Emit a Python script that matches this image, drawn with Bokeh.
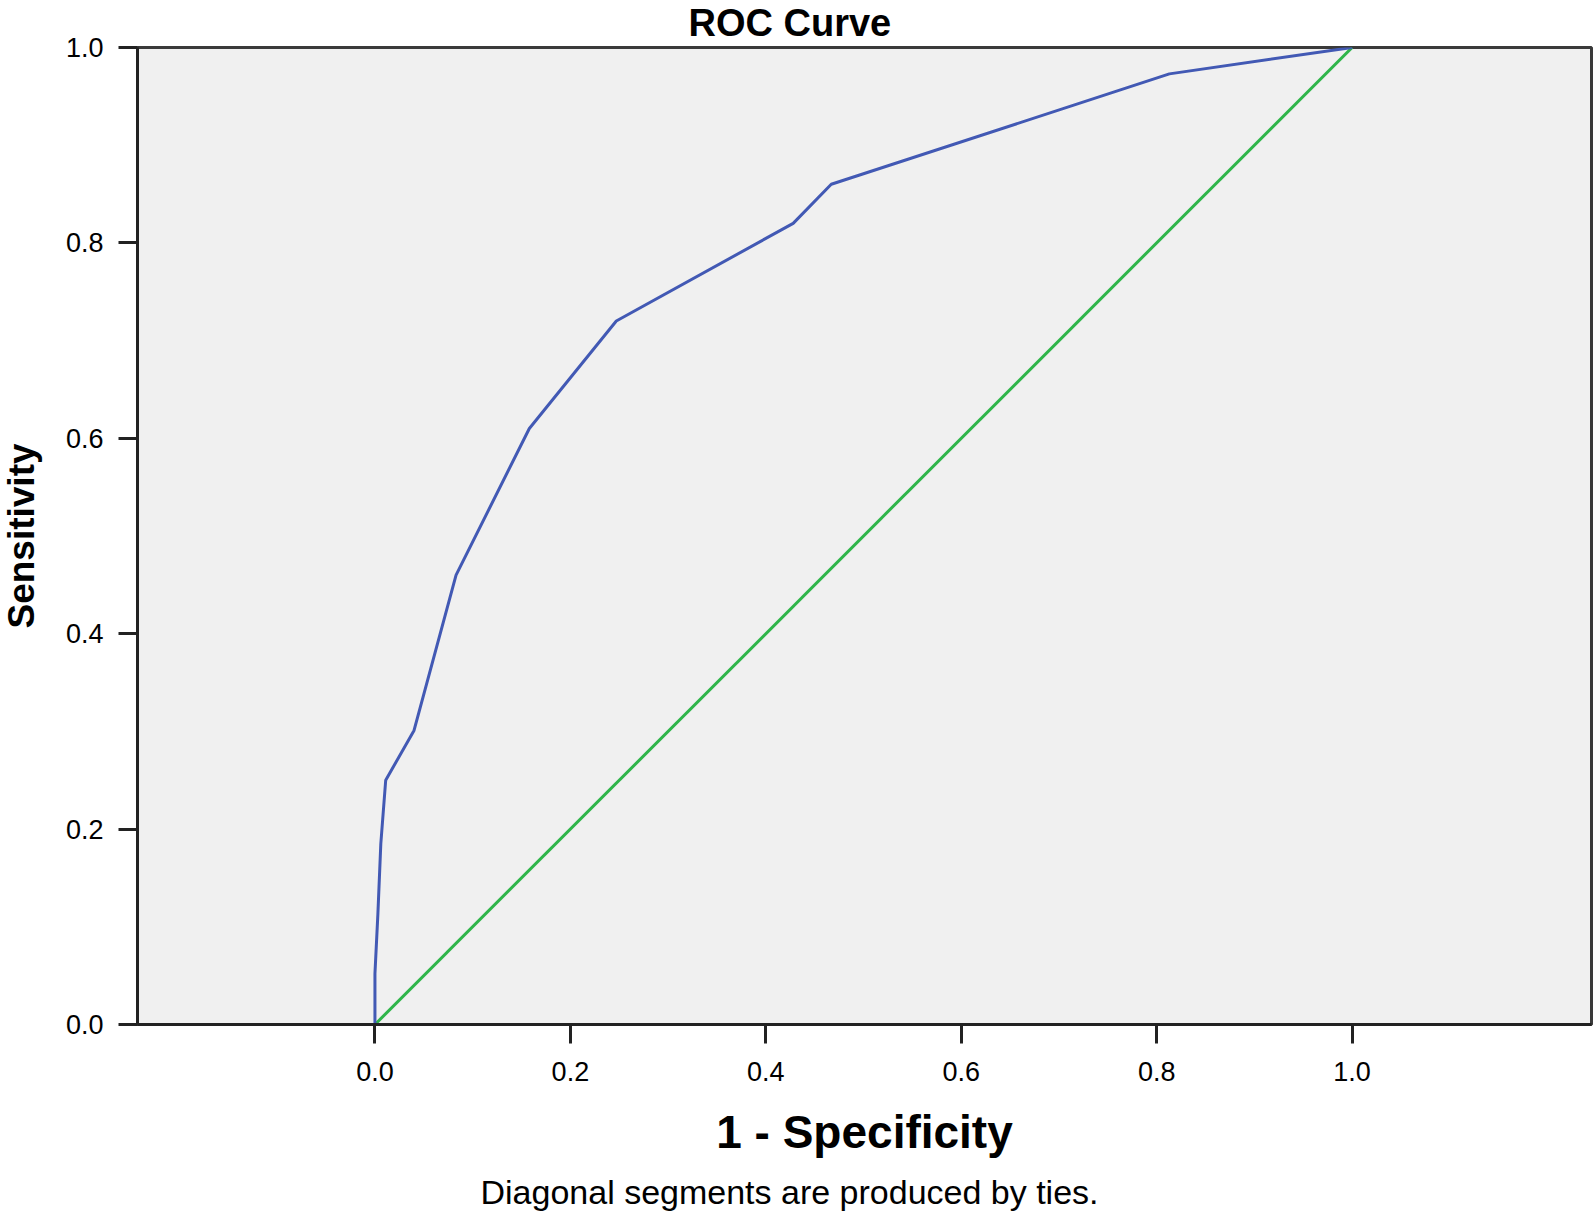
from bokeh.plotting import figure
from bokeh.models import Range1d, FixedTicker, Title, NumeralTickFormatter
from bokeh.embed import file_html
from bokeh.resources import INLINE

# ROC curve data (1 - specificity, sensitivity)
fpr = [0.0, 0.0, 0.003, 0.006, 0.011, 0.040, 0.083, 0.158, 0.247, 0.428, 0.467, 0.813, 1.0]
tpr = [0.0, 0.052, 0.113, 0.185, 0.250, 0.301, 0.460, 0.610, 0.720, 0.820, 0.860, 0.973, 1.0]
ref_x = [0.0, 1.0]
ref_y = [0.0, 1.0]
tick_values = [0.0, 0.2, 0.4, 0.6, 0.8, 1.0]

title_text = "ROC Curve"
x_title = "1 - Specificity"
y_title = "Sensitivity"
footnote = "Diagonal segments are produced by ties."

FONT = "Liberation Sans"

# the figure is pulled up/left a little so that the title and y title can sit near the page edge
p = figure(width=1599, height=1242, output_backend="svg", toolbar_location=None,
           x_range=Range1d(-0.243, 1.245), y_range=Range1d(0, 1),
           min_border_left=143, min_border_right=2, min_border_top=69, min_border_bottom=196,
           styles={"margin-top": "-22px", "margin-left": "-6px"})

p.background_fill_color = "#f0f0f0"
p.border_fill_color = "white"
p.outline_line_color = "#3a3a3a"
p.outline_line_width = 3
p.xgrid.visible = False
p.ygrid.visible = False

p.title.text = title_text
p.title.text_font = FONT
p.title.text_font_size = "38px"
p.title.text_font_style = "bold"
p.title.align = "left"
p.title.vertical_align = "bottom"
p.title.offset = 551
p.title.standoff = 7
p.title.text_color = "black"

for ax in (p.xaxis[0], p.yaxis[0]):
    ax.ticker = FixedTicker(ticks=tick_values)
    ax.formatter = NumeralTickFormatter(format="0.0")
    ax.minor_tick_line_color = None
    ax.major_tick_in = 0
    ax.major_tick_out = 19
    ax.major_tick_line_width = 3
    ax.major_tick_line_color = "#222222"
    ax.axis_line_width = 3
    ax.axis_line_color = "#222222"
    ax.major_label_text_font = FONT
    ax.major_label_text_font_size = "27px"
    ax.major_label_text_color = "black"
    ax.axis_label_text_font = FONT
    ax.axis_label_text_font_style = "bold"
    ax.axis_label_text_color = "black"

p.xaxis.axis_label = x_title
p.xaxis.axis_label_text_font_size = "46px"
p.xaxis.major_label_standoff = 18
p.xaxis.axis_label_standoff = 22

p.yaxis.axis_label = y_title
p.yaxis.axis_label_text_font_size = "37px"
p.yaxis.major_label_standoff = 15
p.yaxis.axis_label_standoff = 21

p.line(ref_x, ref_y, line_color="#2fb54a", line_width=3)
p.line(fpr, tpr, line_color="#4259b4", line_width=3)

foot = Title(text=footnote, align="left", offset=343,
             text_font=FONT, text_font_size="34px", text_font_style="normal",
             text_color="black", standoff=20)
p.add_layout(foot, "below")

open("out.html", "w").write(file_html(p, INLINE))
